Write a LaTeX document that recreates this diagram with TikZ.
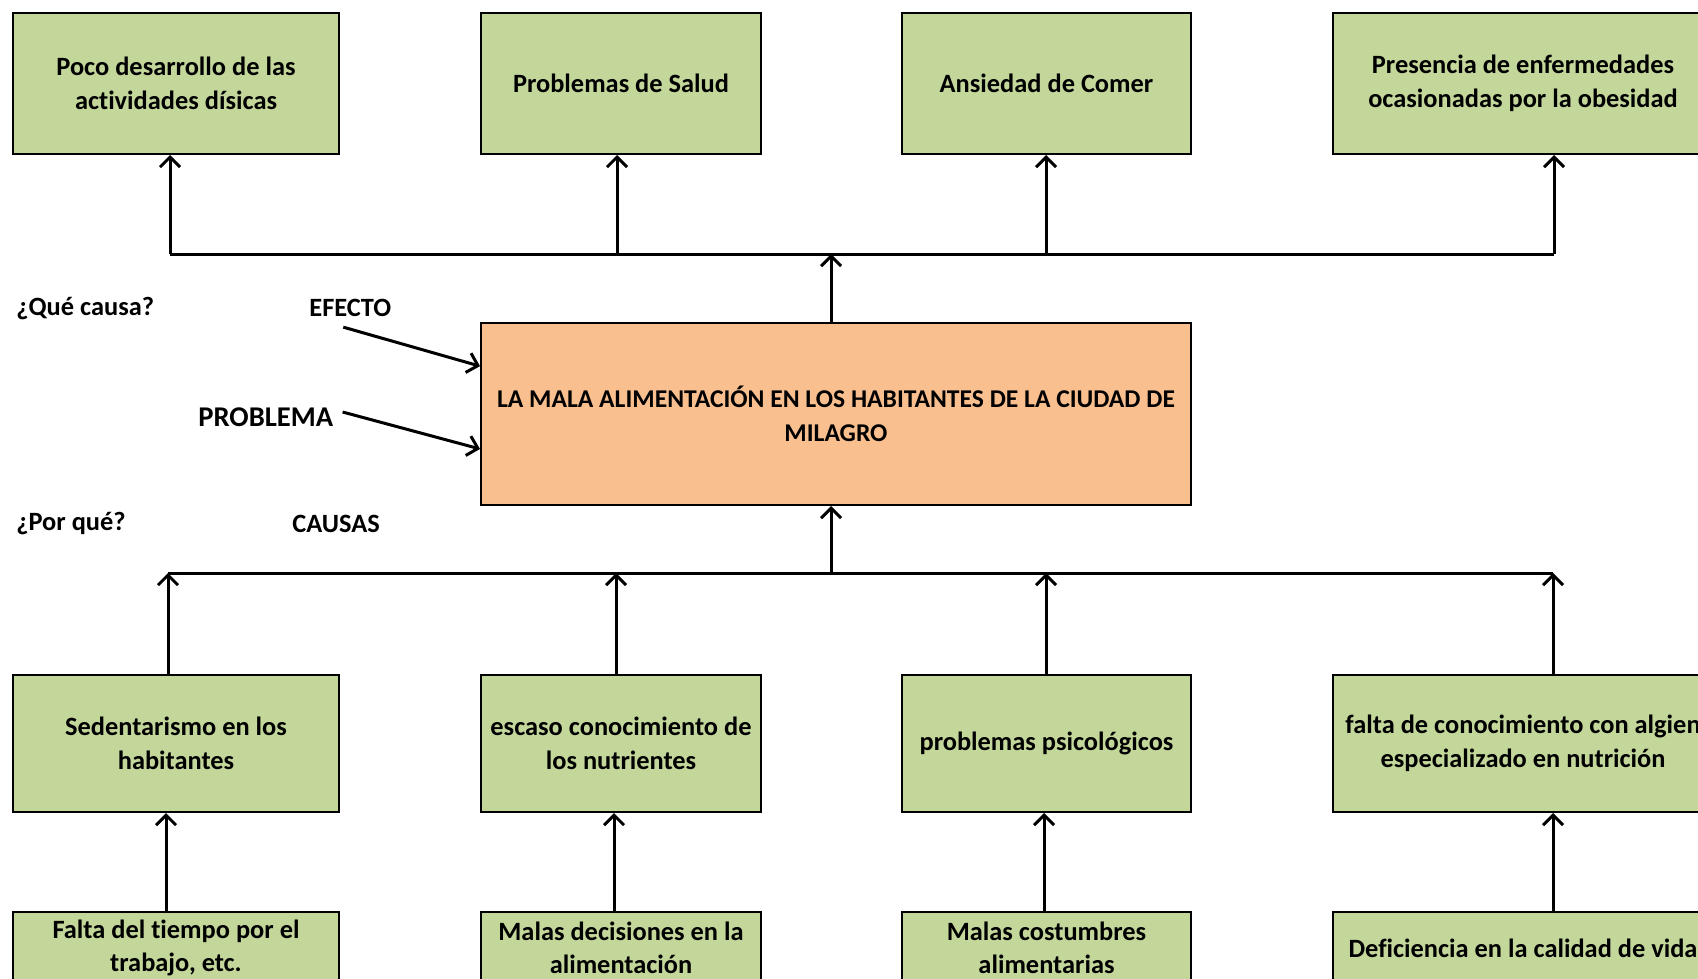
\documentclass[tikz,border=0pt]{standalone}
\usepackage{fontspec}
\setmainfont{Carlito}[Ligatures=NoCommon]
\usetikzlibrary{arrows.meta,positioning,calc}

\definecolor{boxgreen}{HTML}{C4D79B}
\definecolor{boxorange}{HTML}{FABF8F}

\tikzset{
  greenbox/.style={draw, line width=1pt, fill=boxgreen, align=center, inner sep=2pt,
    font=\bfseries\fontsize{13.2}{16.8}\selectfont},
  centerbox/.style={draw, line width=1pt, fill=boxorange, align=center, inner sep=2pt,
    minimum width=355pt, minimum height=91pt, font=\bfseries\fontsize{12.8}{16.8}\selectfont},
  lbl/.style={inner sep=0pt, anchor=west, font=\bfseries\fontsize{13.2}{15}\selectfont},
  conn/.style={line width=1.5pt},
  arr/.style={line width=1.5pt, -{Straight Barb[length=5pt,width=10pt]}}
}

\begin{document}
\begin{tikzpicture}[x=1pt,y=-1pt]
  \useasboundingbox (0,0) rectangle (849,489.5);
  \clip (0,0) rectangle (849,489.5);

  % effects
  \node[greenbox, minimum width=163pt, minimum height=70.5pt] (ef1) at (88,41.75) {Poco desarrollo de las\\actividades dísicas};
  \node[greenbox, minimum width=140pt, minimum height=70.5pt] (ef2) at (310.5,41.75) {Problemas de Salud};
  \node[greenbox, minimum width=144.5pt, minimum height=70.5pt] (ef3) at (523.25,41.75) {Ansiedad de Comer};
  \node[greenbox, minimum width=190pt, minimum height=70.5pt] (ef4) at (761.5,41.75) {Presencia de enfermedades\\ocasionadas por la obesidad};

  % problem
  \node[centerbox] (problem) at (418,207) {LA MALA ALIMENTACIÓN EN LOS HABITANTES DE LA CIUDAD DE\\MILAGRO};

  % causes
  \node[greenbox, minimum width=163pt, minimum height=68.5pt] (ca1) at (88,371.75) {Sedentarismo en los\\habitantes};
  \node[greenbox, minimum width=140pt, minimum height=68.5pt] (ca2) at (310.5,371.75) {escaso conocimiento de\\los nutrientes};
  \node[greenbox, minimum width=144.5pt, minimum height=68.5pt] (ca3) at (523.25,371.75) {problemas psicológicos};
  \node[greenbox, minimum width=190pt, minimum height=68.5pt] (ca4) at (761.5,371.75) {falta de conocimiento con algien\\especializado en nutrición};

  % root causes
  \node[greenbox, minimum width=163pt, minimum height=36pt] (rc1) at (88,474) {Falta del tiempo por el\\trabajo, etc.};
  \node[greenbox, minimum width=140pt, minimum height=36pt] (rc2) at (310.5,474) {Malas decisiones en la\\alimentación};
  \node[greenbox, minimum width=144.5pt, minimum height=36pt] (rc3) at (523.25,474) {Malas costumbres\\alimentarias};
  \node[greenbox, minimum width=190pt, minimum height=36pt] (rc4) at (761.5,474) {Deficiencia en la calidad de vida};

  % side labels
  \node[lbl] (quecausa) at (8,154.5) {¿Qué causa?};
  \node[lbl] (efecto) at (154.5,154) {EFECTO};
  \node[lbl, font=\bfseries\fontsize{14.3}{16}\selectfont] (problema) at (99,208.5) {PROBLEMA};
  \node[lbl] (porque) at (8,262) {¿Por qué?};
  \node[lbl] (causas) at (146,262) {CAUSAS};

  \draw[arr] ([xshift=-3.5pt,yshift=-5pt]efecto.south) -- ($(problem.north west)!0.24!(problem.south west)$);
  \draw[arr] ([xshift=4.5pt,yshift=2.5pt]problema.east) -- ($(problem.north west)!0.69!(problem.south west)$);

  % top bar
  \foreach \i/\x in {1/85,2/308.5,3/523,4/777}{
    \coordinate (t\i) at (\x,127);
    \draw[arr] (t\i) -- (t\i |- ef\i.south);
  }
  \draw[conn] (t1) -- (t4);
  \draw[arr] ([xshift=-2.5pt]problem.north) -- ([xshift=-2.5pt]problem.north |- t1);

  % bottom bar
  \foreach \i/\x in {1/84,2/308,3/523,4/776.5}{
    \coordinate (b\i) at (\x,286.5);
    \draw[arr] (b\i |- ca\i.north) -- (b\i);
  }
  \draw[conn] (b1) -- (b4);
  \draw[arr] ([xshift=-2.5pt]problem.south |- b1) -- ([xshift=-2.5pt]problem.south);

  % root causes to causes
  \foreach \i/\x in {1/83,2/307,3/522,4/776.5}{
    \coordinate (r\i) at (\x,0);
    \draw[arr] (r\i |- rc\i.north) -- (r\i |- ca\i.south);
  }

\end{tikzpicture}
\end{document}
